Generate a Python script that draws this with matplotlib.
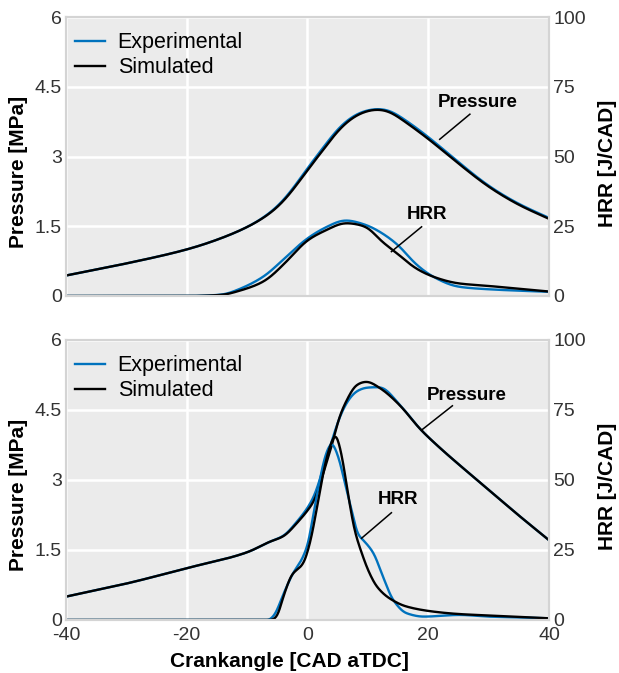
import matplotlib
matplotlib.use("Agg")
import matplotlib.pyplot as plt
import numpy as np

plt.rcParams['font.family'] = ['Liberation Sans', 'DejaVu Sans']
plt.rcParams['axes.unicode_minus'] = False

# ---------------- Data ----------------
# Top panel: pressure [MPa]
top_p_x = [-40, -30, -20, -15.6, -10, -6.8, -4.6, -2.4, 0, 2.6, 5.4, 8.7, 11.4, 13, 16, 20, 25, 30, 35, 40]
top_p_exp = [0.44, 0.70, 1.00, 1.18, 1.48, 1.73, 1.97, 2.31, 2.75, 3.19, 3.65, 3.95, 4.03, 4.02, 3.80, 3.42, 2.88, 2.37, 1.98, 1.68]
top_p_sim = [0.44, 0.70, 1.00, 1.18, 1.48, 1.72, 1.95, 2.28, 2.71, 3.14, 3.61, 3.93, 4.02, 4.00, 3.76, 3.38, 2.85, 2.35, 1.96, 1.66]

# Top panel: HRR [J/CAD]
top_h_x = [-40, -20, -14, -11.7, -7.3, -3.5, 0, 3.2, 6.2, 9.8, 12, 15.3, 17.5, 20.8, 25, 30, 35, 40]
top_h_exp = [0.0, 0.0, 0.5, 2.1, 6.9, 14.1, 20.7, 24.8, 27.2, 25.4, 23.0, 17.7, 12.3, 6.9, 3.3, 2.4, 1.9, 1.5]
top_h_sim = [0.0, 0.0, 0.4, 1.6, 5.1, 12.3, 20.0, 23.7, 26.2, 24.8, 20.1, 14.5, 10.5, 6.9, 4.5, 3.6, 2.6, 1.6]

# Bottom panel: pressure [MPa]
bot_p_x = [-40, -30, -20, -10, -6.2, -4.0, -1.8, 0.1, 1.2, 2.6, 4.3, 5.1, 6.5, 8.1, 9.8, 12, 15.3, 18.6, 22, 25, 30, 35, 40]
bot_p_exp = [0.50, 0.78, 1.11, 1.45, 1.68, 1.80, 2.10, 2.42, 2.68, 3.25, 3.95, 4.27, 4.66, 4.90, 4.98, 4.99, 4.61, 4.10, 3.68, 3.34, 2.79, 2.24, 1.71]
bot_p_sim = [0.50, 0.78, 1.11, 1.45, 1.68, 1.79, 2.07, 2.36, 2.57, 3.14, 3.86, 4.29, 4.71, 5.04, 5.11, 4.97, 4.60, 4.10, 3.68, 3.34, 2.79, 2.24, 1.71]

# Bottom panel: HRR [J/CAD]
bot_h_exp_x = [-40, -10, -6.5, -5.7, -3.7, -2.4, -1.0, 0.1, 0.9, 2.05, 2.9, 4.0, 5.1, 6.2, 7.3, 8.4, 9.2, 10.9, 12.5, 14.2, 16.4, 19.2, 25.2, 30, 35, 40]
bot_h_exp = [0.0, 0.0, 0.0, 1.2, 10.7, 16.7, 21.4, 27.4, 36.9, 50.0, 58.3, 63.1, 58.3, 48.8, 39.3, 30.4, 28.6, 24.0, 15.5, 7.1, 2.4, 1.2, 1.8, 1.2, 0.9, 0.6]
bot_h_sim_x = [-40, -10, -6, -5.1, -4.0, -2.6, -0.7, 0.4, 1.5, 2.6, 3.7, 4.65, 5.6, 6.7, 7.8, 9.0, 10.1, 11.5, 13.6, 16.4, 20.8, 25.2, 30, 35, 40]
bot_h_sim = [0.0, 0.0, 0.0, 1.2, 8.3, 16.1, 20.2, 27.4, 39.3, 52.4, 61.9, 66.1, 59.5, 45.2, 32.1, 23.8, 17.5, 11.9, 7.7, 4.8, 3.0, 2.1, 1.6, 1.1, 0.6]

xticks = [-40, -20, 0, 20, 40]
pticks = [0, 1.5, 3, 4.5, 6]
pticklabels = ['0', '1.5', '3', '4.5', '6']
hticks = [0, 25, 50, 75, 100]

exp_color = '#0072BD'
sim_color = '#000000'


def curve(x, y, sigma, n=801):
    """Monotone cubic (PCHIP) through the read points, lightly smoothed for drawing."""
    x = np.asarray(x, float)
    y = np.asarray(y, float)
    xs = np.linspace(x[0], x[-1], n)
    h = np.diff(x)
    d = np.diff(y) / h
    m = np.zeros_like(y)
    for k in range(1, len(x) - 1):
        if d[k - 1] * d[k] > 0:
            w1 = 2 * h[k] + h[k - 1]
            w2 = h[k] + 2 * h[k - 1]
            m[k] = (w1 + w2) / (w1 / d[k - 1] + w2 / d[k])
    m[0] = d[0]
    m[-1] = d[-1]
    idx = np.clip(np.searchsorted(x, xs) - 1, 0, len(x) - 2)
    t = (xs - x[idx]) / h[idx]
    ys = ((2 * t**3 - 3 * t**2 + 1) * y[idx] + (t**3 - 2 * t**2 + t) * h[idx] * m[idx]
          + (-2 * t**3 + 3 * t**2) * y[idx + 1] + (t**3 - t**2) * h[idx] * m[idx + 1])
    dx = xs[1] - xs[0]
    s = sigma / dx
    r = int(4 * s) + 1
    kx = np.arange(-r, r + 1)
    ker = np.exp(-0.5 * (kx / s) ** 2)
    ker /= ker.sum()
    left = 2 * ys[0] - ys[r:0:-1]
    right = 2 * ys[-1] - ys[-2:-r - 2:-1]
    padded = np.concatenate([left, ys, right])
    ys = np.convolve(padded, ker, mode='same')[r:-r]
    return xs, ys


fig = plt.figure(figsize=(6.19, 6.73), dpi=100)
positions = [[0.1066, 0.5602, 0.7803, 0.4145], [0.1066, 0.0788, 0.7803, 0.4160]]

panels = [
    (top_p_x, top_p_exp, top_p_sim, top_h_x, top_h_exp, top_h_x, top_h_sim, 1.2, 0.8,
     dict(ptxt=(28.2, 4.16), pline=((26.9, 3.91), (21.9, 3.37)),
          htxt=(19.85, 29.2), hline=((18.9, 24.8), (13.9, 15.9)))),
    (bot_p_x, bot_p_exp, bot_p_sim, bot_h_exp_x, bot_h_exp, bot_h_sim_x, bot_h_sim, 0.5, 0.3,
     dict(ptxt=(26.3, 4.82), pline=((24.0, 4.59), (18.9, 4.07)),
          htxt=(15.0, 42.9), hline=((13.9, 38.3), (8.96, 29.2)))),
]

for i, (px, pe, ps, hxe, he, hxs, hs, sp, sh, ann) in enumerate(panels):
    ax = fig.add_axes(positions[i])
    ax2 = ax.twinx()
    ax.set_zorder(ax2.get_zorder() - 1)
    ax2.patch.set_visible(False)
    ax.set_facecolor('#ebebeb')
    ax.grid(True, color='white', linewidth=1.8)
    ax.set_axisbelow(True)

    xs, ys = curve(px, pe, sp)
    ax.plot(xs, ys, color=exp_color, lw=1.7, label='Experimental')
    xs, ys = curve(px, ps, sp)
    ax.plot(xs, ys, color=sim_color, lw=1.7, label='Simulated')

    xs, ys = curve(hxe, he, sh)
    ax2.plot(xs, ys, color=exp_color, lw=1.7)
    xs, ys = curve(hxs, hs, sh)
    ax2.plot(xs, ys, color=sim_color, lw=1.7)

    ax.set_xlim(-40, 40)
    ax.set_ylim(0, 6)
    ax2.set_ylim(0, 100)
    ax.set_xticks(xticks)
    ax.set_yticks(pticks)
    ax.set_yticklabels(pticklabels)
    ax2.set_yticks(hticks)

    for a in (ax, ax2):
        a.tick_params(axis='y', length=0, labelsize=14, labelcolor='#333333', pad=3)
        a.tick_params(axis='x', length=0, labelsize=14, labelcolor='#333333', pad=5)
        for s in a.spines.values():
            s.set_color('#d4d4d4')
            s.set_linewidth(1.5)

    if i == 0:
        ax.tick_params(axis='x', labelbottom=False)
    else:
        ax.set_xlabel('Crankangle [CAD aTDC]', fontsize=15, fontweight='bold', labelpad=6)
        ax.xaxis.label.set_x(0.462)

    ax.set_ylabel('Pressure [MPa]', fontsize=15, fontweight='bold', labelpad=5)
    ax.yaxis.label.set_y(0.446)
    ax2.set_ylabel('HRR [J/CAD]', fontsize=15, fontweight='bold', labelpad=9)
    ax2.yaxis.label.set_y(0.477)

    ax.legend(loc='upper left', frameon=False, fontsize=15.5, handlelength=1.4,
              handletextpad=0.6, borderaxespad=0.0, borderpad=0.4, labelspacing=0.18,
              bbox_to_anchor=(0.0, 0.976))

    ax.text(ann['ptxt'][0], ann['ptxt'][1], 'Pressure', fontsize=13.5,
            fontweight='bold', ha='center', va='center')
    (x0, y0), (x1, y1) = ann['pline']
    ax.plot([x0, x1], [y0, y1], color='black', lw=1.1)
    ax2.text(ann['htxt'][0], ann['htxt'][1], 'HRR', fontsize=13.5,
             fontweight='bold', ha='center', va='center')
    (x0, y0), (x1, y1) = ann['hline']
    ax2.plot([x0, x1], [y0, y1], color='black', lw=1.1)

fig.savefig('out.png', dpi=100)
